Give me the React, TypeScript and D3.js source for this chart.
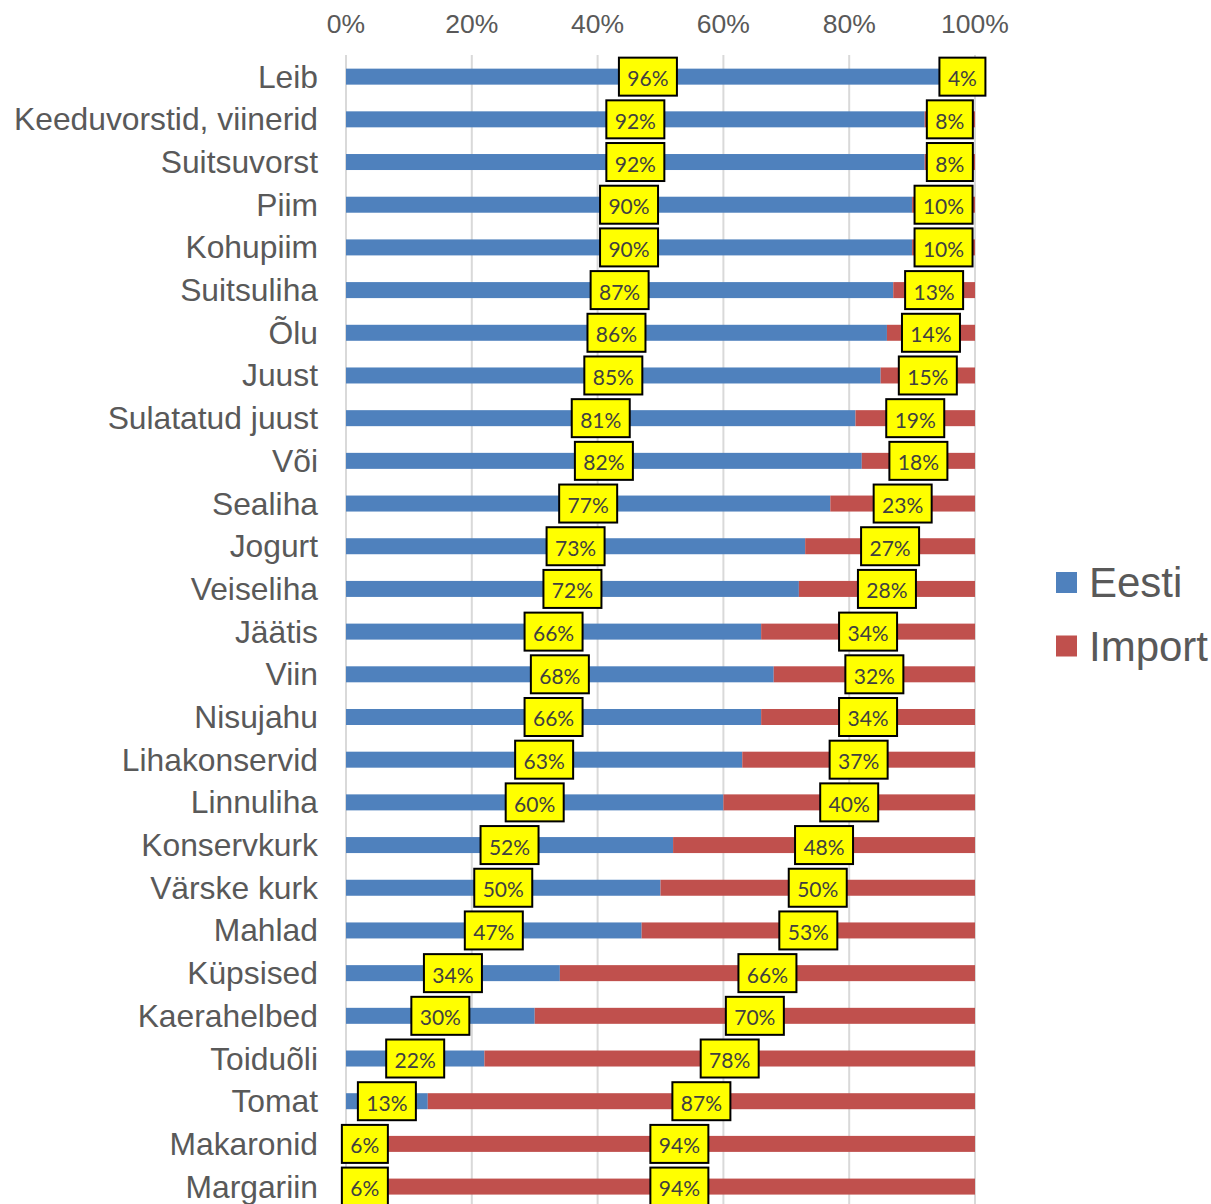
import React from "react";
import * as d3 from "d3";

const categories = [
  "Leib", "Keeduvorstid, viinerid", "Suitsuvorst", "Piim", "Kohupiim", "Suitsuliha", "Õlu", "Juust",
  "Sulatatud juust", "Või", "Sealiha", "Jogurt", "Veiseliha", "Jäätis", "Viin", "Nisujahu",
  "Lihakonservid", "Linnuliha", "Konservkurk", "Värske kurk", "Mahlad", "Küpsised", "Kaerahelbed",
  "Toiduõli", "Tomat", "Makaronid", "Margariin",
];
const eesti = [96, 92, 92, 90, 90, 87, 86, 85, 81, 82, 77, 73, 72, 66, 68, 66, 63, 60, 52, 50, 47, 34, 30, 22, 13, 6, 6];
const importVals = [4, 8, 8, 10, 10, 13, 14, 15, 19, 18, 23, 27, 28, 34, 32, 34, 37, 40, 48, 50, 53, 66, 70, 78, 87, 94, 94];
const ticks = [0, 20, 40, 60, 80, 100];
const seriesNames = ["Eesti", "Import"];
const colors = ["#4F81BD", "#C0504D"];

const W = 1211;
const H = 1204;

export default function App() {
  const x = d3.scaleLinear().domain([0, 100]).range([346, 975]);
  const y = d3.scaleBand().domain(categories).range([55.3, 55.3 + 42.69 * categories.length]).paddingInner(0);
  const barH = 16;
  const font = "Arial, 'Liberation Sans', sans-serif";
  const labelFont = "Lato, Arial, sans-serif";
  const boxH = 38;
  const boxW = (s: string) => 22 + 12 * s.length;

  return (
    <div style={{ position: "absolute", left: 0, top: 0 }}>
      <svg width={W} height={H} style={{ display: "block", background: "#fff" }}>
        {ticks.map((t) => (
          <g key={t}>
            <line x1={x(t)} x2={x(t)} y1={55} y2={H} stroke="#D9D9D9" strokeWidth={2} />
            <text x={x(t)} y={24} textAnchor="middle" dominantBaseline="central" style={{ fontFamily: font }} fontSize={26.5} fill="#595959">
              {t}%
            </text>
          </g>
        ))}
        {categories.map((c, i) => {
          const cy = (y(c) as number) + y.bandwidth() / 2;
          const e = eesti[i];
          const im = importVals[i];
          return (
            <g key={c}>
              <rect x={x(0)} y={cy - barH / 2} width={x(e) - x(0)} height={barH} fill={colors[0]} />
              <rect x={x(e)} y={cy - barH / 2} width={x(e + im) - x(e)} height={barH} fill={colors[1]} />
              <text x={318} y={cy} textAnchor="end" dominantBaseline="central" style={{ fontFamily: font }} fontSize={31.8} fill="#595959">
                {c}
              </text>
            </g>
          );
        })}
        {categories.map((c, i) => {
          const cy = (y(c) as number) + y.bandwidth() / 2;
          const e = eesti[i];
          const im = importVals[i];
          const items = [
            { v: e, cx: x(e / 2) },
            { v: im, cx: x(e + im / 2) },
          ];
          return (
            <g key={c + "-lbl"}>
              {items.map((it, k) => {
                const s = `${it.v}%`;
                const w = boxW(s);
                return (
                  <g key={k}>
                    <rect x={it.cx - w / 2} y={cy - boxH / 2} width={w} height={boxH} fill="#FFFF00" stroke="#000" strokeWidth={2} />
                    <text x={it.cx} y={cy + 1} textAnchor="middle" dominantBaseline="central" style={{ fontFamily: labelFont }} fontSize={21} fill="#404040">
                      {s}
                    </text>
                  </g>
                );
              })}
            </g>
          );
        })}
        {seriesNames.map((n, i) => {
          const cy = 582.5 + i * 63.5;
          return (
            <g key={n}>
              <rect x={1056} y={cy - 10.5} width={21} height={21} fill={colors[i]} />
              <text x={1089} y={cy} dominantBaseline="central" style={{ fontFamily: font }} fontSize={42} fill="#595959">
                {n}
              </text>
            </g>
          );
        })}
      </svg>
    </div>
  );
}
